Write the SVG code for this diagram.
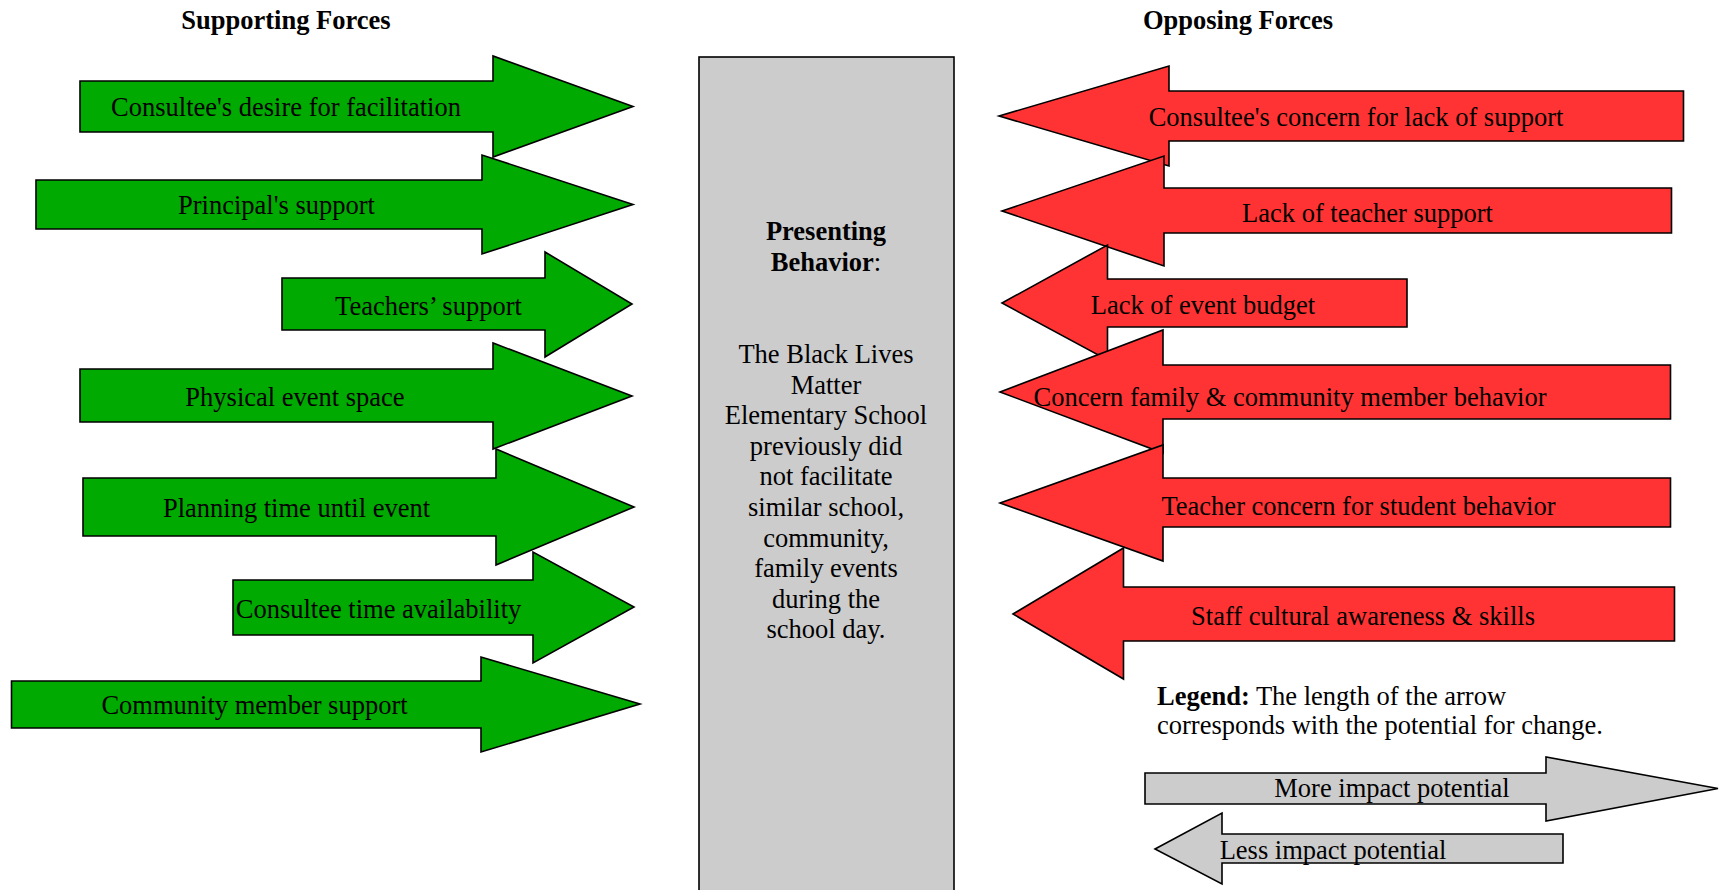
<svg xmlns="http://www.w3.org/2000/svg" width="1723" height="890" viewBox="0 0 1723 890">
<style>
text{font-family:"Liberation Serif","Times New Roman",serif;font-size:26.5px;fill:#000}
.c{text-anchor:middle}
.b{font-weight:bold}
.g{fill:#00AA00;stroke:#000;stroke-width:1.6;stroke-linejoin:miter}
.r{fill:#FF3333;stroke:#000;stroke-width:1.6;stroke-linejoin:miter}
.k{fill:#CCCCCC;stroke:#000;stroke-width:1.6;stroke-linejoin:miter}
</style>
<rect width="1723" height="890" fill="#fff"/>
<g id="titles">
<text class="c b" x="286" y="29">Supporting Forces</text>
<text class="c b" x="1238" y="29">Opposing Forces</text>
</g>
<g id="center-box">
<rect class="k" x="699" y="57" width="255" height="850"/>
<text class="c b" x="826" y="240">Presenting</text>
<text class="c" x="826" y="270.5"><tspan class="b">Behavior</tspan>:</text>
<text class="c" x="826" y="363">The Black Lives</text>
<text class="c" x="826" y="393.6">Matter</text>
<text class="c" x="826" y="424.2">Elementary School</text>
<text class="c" x="826" y="454.8">previously did</text>
<text class="c" x="826" y="485.4">not facilitate</text>
<text class="c" x="826" y="516">similar school,</text>
<text class="c" x="826" y="546.6">community,</text>
<text class="c" x="826" y="577.2">family events</text>
<text class="c" x="826" y="607.8">during the</text>
<text class="c" x="826" y="638.4">school day.</text>
</g>
<g id="support-1"><polygon class="g" points="80,81 493,81 493,56 633,106.5 493,157 493,132 80,132"/><text class="c" x="286" y="116">Consultee's desire for facilitation</text></g>
<g id="support-2"><polygon class="g" points="36,180 482,180 482,155 633,204.5 482,254 482,229 36,229"/><text class="c" x="276.5" y="214">Principal's support</text></g>
<g id="support-3"><polygon class="g" points="282,278 545,278 545,252 632,304 545,357 545,330 282,330"/><text class="c" x="428.5" y="315">Teachers’ support</text></g>
<g id="support-4"><polygon class="g" points="80,369 493,369 493,343 632,396 493,449 493,422 80,422"/><text class="c" x="295" y="406">Physical event space</text></g>
<g id="support-5"><polygon class="g" points="83,478 496,478 496,449 634,507 496,565 496,536 83,536"/><text class="c" x="296.5" y="517">Planning time until event</text></g>
<g id="support-6"><polygon class="g" points="233,580 533,580 533,552 634,607 533,663 533,635 233,635"/><text class="c" x="378.5" y="618">Consultee time availability</text></g>
<g id="support-7"><polygon class="g" points="11.5,681 481,681 481,657 640,704 481,752 481,728 11.5,728"/><text class="c" x="254.5" y="714">Community member support</text></g>
<g id="oppose-1"><polygon class="r" points="999,116 1169,66 1169,91 1683.5,91 1683.5,141 1169,141 1169,166"/><text class="c" x="1356" y="126">Consultee's concern for lack of support</text></g>
<g id="oppose-2"><polygon class="r" points="1002,211 1164,156 1164,188 1671.5,188 1671.5,233 1164,233 1164,266"/><text class="c" x="1367.5" y="221.5">Lack of teacher support</text></g>
<g id="oppose-3"><polygon class="r" points="1002,303 1107.5,245 1107.5,279 1407,279 1407,327 1107.5,327 1107.5,360"/><text class="c" x="1203" y="314">Lack of event budget</text></g>
<g id="oppose-4"><polygon class="r" points="1000,392 1163,330 1163,365 1670.5,365 1670.5,419 1163,419 1163,453"/><text class="c" x="1290" y="406">Concern family &amp; community member behavior</text></g>
<g id="oppose-5"><polygon class="r" points="1000,503 1163,445 1163,478 1670.5,478 1670.5,527 1163,527 1163,561"/><text class="c" x="1358.5" y="515">Teacher concern for student behavior</text></g>
<g id="oppose-6"><polygon class="r" points="1013,614 1123.5,548 1123.5,587 1674.5,587 1674.5,641 1123.5,641 1123.5,679"/><text class="c" x="1363" y="625">Staff cultural awareness &amp; skills</text></g>
<g id="legend">
<text x="1157" y="705"><tspan class="b">Legend:</tspan> The length of the arrow</text>
<text x="1157" y="734">corresponds with the potential for change.</text>
</g>
<g id="legend-more"><polygon class="k" points="1145,773 1546,773 1546,757 1718,788.5 1546,821 1546,804 1145,804"/><text class="c" x="1392" y="797">More impact potential</text></g>
<g id="legend-less"><polygon class="k" points="1155,849 1222,813 1222,834 1563,834 1563,863 1222,863 1222,884"/><text class="c" x="1333" y="859">Less impact potential</text></g>
</svg>
